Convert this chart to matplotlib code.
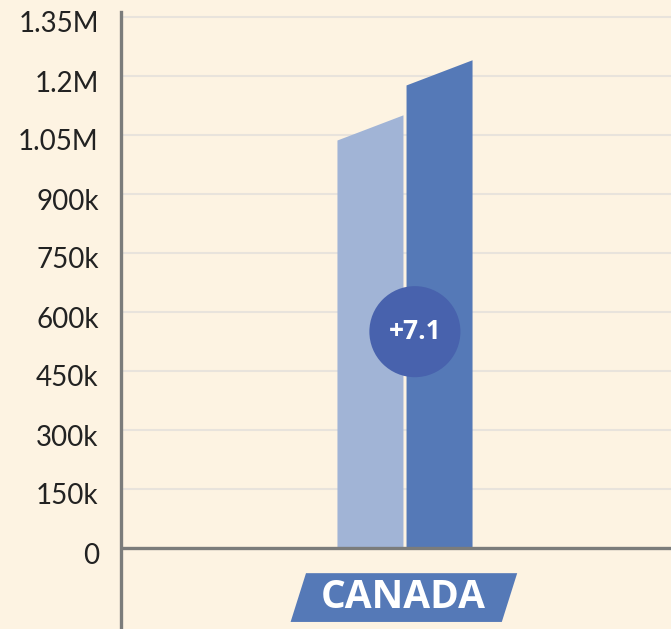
import matplotlib.pyplot as plt
from matplotlib.patches import Polygon
from matplotlib.transforms import ScaledTranslation

# data
country = "CANADA"
prev_value = 1.10e6
curr_value = 1.176e6
change_pct = 7.1
yticks = [0, 150e3, 300e3, 450e3, 600e3, 750e3, 900e3, 1.05e6, 1.2e6, 1.35e6]
ytick_labels = ["0", "150k", "300k", "450k", "600k", "750k", "900k", "1.05M", "1.2M", "1.35M"]

bg = "#fdf3e2"
axis_gray = "#7b7c7b"
light_blue = "#a1b4d6"
dark_blue = "#5579b7"
badge_blue = "#4862ad"

plt.rcParams['font.family'] = ['Open Sans', 'DejaVu Sans']

W, H = 671, 629
fig = plt.figure(figsize=(W / 100, H / 100), dpi=100)
fig.patch.set_facecolor(bg)
ax = fig.add_axes([121 / W, 0, 550 / W, (H - 12) / H])
ax.set_facecolor(bg)

# px -> data scale: 59 px per 150k
per_px = 150e3 / 59
ax.set_ylim(-(H - 548) * per_px, (548 - 12) * per_px)
ax.set_xlim(-(405 - 121) / 220, (671 - 405) / 220)

for t in yticks[1:]:
    ax.axhline(t, color="#e8e3dc", lw=1.5, zorder=0)

bw = 0.3
slant = 0.064e6
gap = 0.007
# previous year bar (top rises to prev_value)
ax.add_patch(Polygon([(-bw - gap, 0), (-gap, 0), (-gap, prev_value),
                      (-bw - gap, prev_value - slant)],
                     closed=True, fc=light_blue, ec="none", zorder=2))
# current year bar
ax.add_patch(Polygon([(gap, 0), (bw + gap, 0), (bw + gap, curr_value + slant),
                      (gap, curr_value)],
                     closed=True, fc=dark_blue, ec="none", zorder=2))

# change badge
ax.scatter([0.045], [prev_value / 2], s=4300, color=badge_blue, zorder=3,
           edgecolors="none")
ax.text(0.045, prev_value / 2, f"+{change_pct}", color="white", fontsize=19,
        fontweight="bold", ha="center", va="center", zorder=4)

# x axis line
ax.axhline(0, color=axis_gray, lw=2.4, zorder=5)

# country label on parallelogram
y0, y1 = -64e3, -188e3
ax.add_patch(Polygon([(-0.52, y1), (-0.45, y0), (0.51, y0), (0.44, y1)],
                     closed=True, fc=dark_blue, ec="none", clip_on=False, zorder=2))
ax.text(-0.01, (y0 + y1) / 2, country, color="white", fontsize=28,
        fontweight="bold", ha="center", va="center", zorder=3)

ax.set_yticks(yticks)
ax.set_yticklabels(ytick_labels, fontsize=20, color="#222222", family="Lato")
ax.tick_params(axis="y", length=0, pad=16)
shift = ScaledTranslation(0, -5 / 100, fig.dpi_scale_trans)
for lab in ax.get_yticklabels():
    lab.set_transform(lab.get_transform() + shift)
ax.set_xticks([])
for s in ["top", "right", "bottom"]:
    ax.spines[s].set_visible(False)
ax.spines["left"].set_color(axis_gray)
ax.spines["left"].set_linewidth(2.4)

fig.savefig("out.png", dpi=100, facecolor=bg)
